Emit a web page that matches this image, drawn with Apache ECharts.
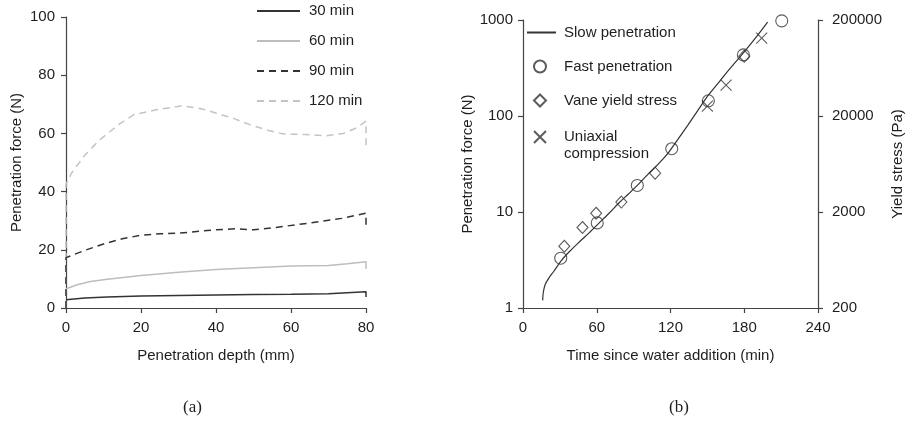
<!DOCTYPE html>
<html>
<head>
<meta charset="utf-8">
<script src="https://cdn.jsdelivr.net/npm/echarts@6/dist/echarts.min.js"></script>
<style>
  html, body { margin: 0; padding: 0; background: #fff; }
  #main { width: 908px; height: 426px; }
</style>
</head>
<body>
<div id="main"></div>
<script>
// (a) penetration force vs depth
var depth30 = [0, 5, 11, 20, 30, 40, 50, 60, 70, 80, 80];
var force30 = [2.8, 3.4, 3.8, 4.1, 4.3, 4.5, 4.6, 4.7, 4.9, 5.6, 3.8];
var depth60 = [0, 3, 6.5, 11, 20, 30, 40, 50, 60, 70, 75, 80, 80];
var force60 = [6.6, 8, 9.1, 9.9, 11.2, 12.3, 13.2, 13.8, 14.4, 14.6, 15.2, 15.9, 13.5];
var depth90 = [0, 0, 5, 10, 15, 20, 25, 30, 40, 45, 50, 56, 65, 73.5, 80, 80];
var force90 = [0, 17.3, 19.8, 22, 23.8, 25, 25.5, 25.7, 26.9, 27.2, 26.9, 27.7, 29.2, 30.8, 32.6, 27.7];
var depth120 = [0, 0, 1.5, 5, 9, 14, 18, 24, 31, 36, 40, 45, 49, 54, 58, 64, 69.5, 74, 77.5, 80, 80];
var force120 = [0, 42.5, 46.4, 52.5, 57.8, 63, 66.4, 68.1, 69.5, 68.5, 67, 65, 63, 61, 59.8, 59.6, 59.2, 60, 61.9, 64.2, 54.5];

// (b) force vs time since water addition
var slowT = [16, 16.5, 18, 21, 25, 31, 38, 46, 54, 62, 70, 78, 86, 94, 102, 110, 118, 126, 134, 142, 150, 160, 170, 180, 190, 199];
var slowF = [1.2, 1.45, 1.75, 2.05, 2.4, 3.1, 3.9, 4.9, 6.1, 7.7, 9.7, 12.4, 15.5, 19.5, 25, 31.5, 41, 57, 80, 113, 160, 230, 330, 465, 670, 950];
var fastT = [30.7, 60.4, 93, 121, 150.8, 179.3, 210.5];
var fastF = [3.3, 7.7, 18.9, 45.6, 144, 433, 980];
var vaneT = [33.6, 48.4, 59.5, 80, 107.5, 180];
var vaneF = [4.4, 6.9, 9.7, 12.7, 25.4, 420];
var uniT = [150, 165.2, 194.2];
var uniF = [127, 210, 646];

function zip(xs, ys) {
    return xs.map(function (x, i) { return [x, ys[i]]; });
}

var ink = '#1e1e1e';
var axisCol = '#444';
var font = 'Liberation Sans, Arial, sans-serif';

function axisCommon(extra) {
    var a = {
        axisLine: {show: true, lineStyle: {color: axisCol, width: 1.2}},
        axisTick: {show: true, inside: false, length: 5, lineStyle: {color: axisCol, width: 1.2}},
        axisLabel: {color: ink, fontSize: 15, fontFamily: font, margin: 11},
        splitLine: {show: false},
        nameTextStyle: {color: ink, fontSize: 15, fontFamily: font},
        nameLocation: 'middle'
    };
    for (var k in extra) a[k] = extra[k];
    return a;
}

function txt(padLeft) {
    return {color: ink, fontSize: 15, fontFamily: font, lineHeight: 17, padding: [0, 0, 0, padLeft]};
}

var myChart = echarts.init(document.getElementById('main'), null, {renderer: 'canvas'});

option = {
    backgroundColor: '#fff',
    animation: false,
    title: [
        {text: '(a)', left: 183, top: 399, padding: 0,
            textStyle: {fontFamily: 'Liberation Serif, serif', fontSize: 17, fontWeight: 'normal', color: ink}},
        {text: '(b)', left: 669, top: 399, padding: 0,
            textStyle: {fontFamily: 'Liberation Serif, serif', fontSize: 17, fontWeight: 'normal', color: ink}}
    ],
    grid: [
        {left: 66, top: 17, width: 300, height: 291},
        {left: 523, top: 20, width: 295, height: 288}
    ],
    xAxis: [
        axisCommon({gridIndex: 0, type: 'value', min: 0, max: 80, interval: 20,
            name: 'Penetration depth (mm)', nameGap: 40,
            axisLabel: {color: ink, fontSize: 15, fontFamily: font, margin: 12}}),
        axisCommon({gridIndex: 1, type: 'value', min: 0, max: 240, interval: 60,
            name: 'Time since water addition (min)', nameGap: 40,
            axisLabel: {color: ink, fontSize: 15, fontFamily: font, margin: 12}})
    ],
    yAxis: [
        axisCommon({gridIndex: 0, type: 'value', min: 0, max: 100, interval: 20,
            name: 'Penetration force (N)', nameGap: 42}),
        axisCommon({gridIndex: 1, type: 'log', logBase: 10, min: 1, max: 1000,
            name: 'Penetration force (N)', nameGap: 36, minorTick: {show: false},
            axisLabel: {color: ink, fontSize: 15, fontFamily: font, margin: 10,
                formatter: function (v) { return String(Math.round(v)); }}}),
        axisCommon({gridIndex: 1, type: 'log', logBase: 10, min: 1, max: 1000, position: 'right',
            name: 'Yield stress (Pa)', nameGap: 72,
            axisLabel: {color: ink, fontSize: 15, fontFamily: font, margin: 14,
                formatter: function (v) { return String(Math.round(v * 200)); }}})
    ],
    legend: [
        {data: ['30 min', '60 min', '90 min', '120 min'], orient: 'vertical', left: 256, top: 2.5,
            padding: 0, itemWidth: 43, itemHeight: 14, itemGap: 13, textStyle: txt(4),
            itemStyle: {opacity: 0}},
        {data: ['Slow penetration'], left: 526, top: 24, padding: 0,
            itemWidth: 29, itemHeight: 12, textStyle: txt(3), itemStyle: {opacity: 0}},
        {data: ['Fast penetration'], left: 533, top: 58, padding: 0,
            itemWidth: 12, itemHeight: 12, textStyle: txt(13)},
        {data: ['Vane yield stress'], left: 533, top: 92, padding: 0,
            itemWidth: 12, itemHeight: 12, textStyle: txt(13)},
        {data: ['Uniaxial compression'], left: 533, top: 111.5, padding: 0,
            itemWidth: 12, itemHeight: 12,
            formatter: function () { return '\nUniaxial\ncompression'; },
            textStyle: txt(13)}
    ],
    series: [
        {name: '120 min', type: 'line', xAxisIndex: 0, yAxisIndex: 0, symbol: 'none',
            data: zip(depth120, force120),
            lineStyle: {color: '#c4c4c4', width: 1.5, type: [7, 5]}, itemStyle: {color: '#c4c4c4'}},
        {name: '90 min', type: 'line', xAxisIndex: 0, yAxisIndex: 0, symbol: 'none',
            data: zip(depth90, force90),
            lineStyle: {color: '#333', width: 1.5, type: [7, 5]}, itemStyle: {color: '#333'}},
        {name: '60 min', type: 'line', xAxisIndex: 0, yAxisIndex: 0, symbol: 'none',
            data: zip(depth60, force60),
            lineStyle: {color: '#bdbdbd', width: 1.5}, itemStyle: {color: '#bdbdbd'}},
        {name: '30 min', type: 'line', xAxisIndex: 0, yAxisIndex: 0, symbol: 'none',
            data: zip(depth30, force30),
            lineStyle: {color: '#333', width: 1.5}, itemStyle: {color: '#333'}},

        {name: 'Slow penetration', type: 'line', xAxisIndex: 1, yAxisIndex: 1, symbol: 'none', smooth: 0.3,
            data: zip(slowT, slowF),
            lineStyle: {color: '#333', width: 1.2}, itemStyle: {color: '#333'}},
        {name: 'Fast penetration', type: 'scatter', xAxisIndex: 1, yAxisIndex: 1, symbol: 'circle', symbolSize: 12,
            data: zip(fastT, fastF),
            itemStyle: {color: 'rgba(0,0,0,0)', borderColor: '#333', borderWidth: 1.1}},
        {name: 'Vane yield stress', type: 'scatter', xAxisIndex: 1, yAxisIndex: 1, symbol: 'diamond', symbolSize: [11, 12],
            data: zip(vaneT, vaneF),
            itemStyle: {color: 'rgba(0,0,0,0)', borderColor: '#333', borderWidth: 1.1}},
        {name: 'Uniaxial compression', type: 'scatter', xAxisIndex: 1, yAxisIndex: 1,
            symbol: 'path://M0,0L10,10M10,0L0,10', symbolSize: 11,
            data: zip(uniT, uniF),
            itemStyle: {color: 'rgba(0,0,0,0)', borderColor: '#333', borderWidth: 1.1}}
    ]
};

myChart.setOption(option);
</script>
</body>
</html>
